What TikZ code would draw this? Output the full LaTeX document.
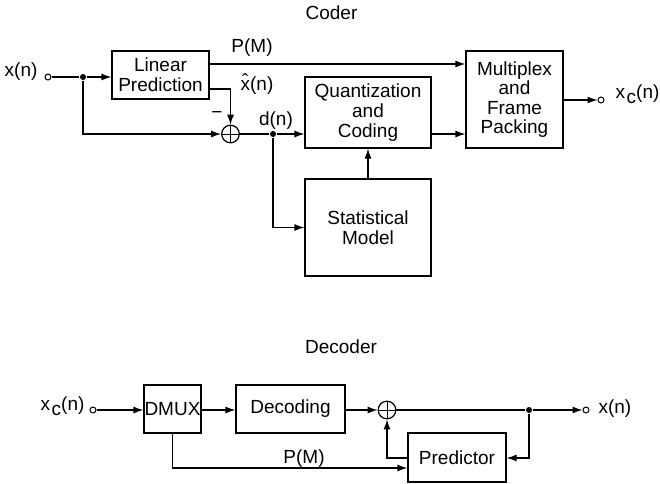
\documentclass[tikz,border=0pt]{standalone}
\usepackage{fontspec}
\setmainfont{Liberation Sans}
\usetikzlibrary{arrows.meta}
\newcommand\myxc{x\kern0.8pt\raisebox{-2.5pt}{c}(n)}
\newcommand\myxhat{\ooalign{x\cr\hidewidth\raisebox{1.2pt}{ˆ}\hidewidth\cr}}
\begin{document}
\begin{tikzpicture}[x=0.5pt,y=-0.5pt,
  font=\fontsize{9.5}{9.8}\selectfont,
  inner sep=0pt,
  line width=0.6pt,
  >={Latex[length=5pt,width=3.5pt]},
  blk/.style={draw, align=center, inner sep=0pt},
  dotnode/.style={circle, fill, inner sep=0pt, minimum size=3pt},
  term/.style={circle, draw, fill=white, inner sep=0pt, minimum size=3pt, line width=0.5pt},
  sumnode/.style={circle, draw, inner sep=0pt, minimum size=8.8pt,
    path picture={\draw[line width=0.5pt] (path picture bounding box.north) -- (path picture bounding box.south)
      (path picture bounding box.west) -- (path picture bounding box.east);}}
]
\useasboundingbox (0,0) rectangle (660,483);

% ---------- Coder ----------
\node[anchor=base] (tcoder) at (331.5,19) {Coder};
\node[term] (in1) at (48,77) {};
\node[dotnode] (j1) at (83,77) {};
\node[blk, minimum width=48.5pt, minimum height=24pt] (lp) at (160.5,75) {Linear\\Prediction};
\node[sumnode] (s1) at (230.5,134) {};
\node[dotnode] (j2) at (273,134) {};
\node[blk, minimum width=63pt, minimum height=35.5pt] (qc) at (368,112.5) {Quantization\\and\\Coding};
\node[blk, minimum width=63pt, minimum height=48.5pt] (sm) at (368,227.5) {Statistical\\Model};
\node[blk, minimum width=48.5pt, minimum height=48.5pt] (mx) at (514.5,99.5) {Multiplex\\and\\Frame\\Packing};
\node[term] (out1) at (601,100) {};
\coordinate (yP) at (0,64);
\coordinate (yX) at (0,89);

\node[anchor=base east] (lx) at (38,76) {x(n)};
\node[anchor=base] (lpm) at (252,52) {P(M)};
\node[anchor=base] (lxh) at (257,90) {\myxhat(n)};
\node (lminus) at (217,115) {−};
\node[anchor=base] (ld) at (276,125) {d(n)};
\node[anchor=base west] (lxc) at (615,98) {\myxc};

\draw (in1) -- (j1);
\draw[->] (j1) -- (j1 -| lp.west);
\draw[->] (j1) |- (s1);
\draw[->] (lp.east |- yP) -- (mx.west |- yP);
\draw[->] (lp.east |- yX) -| (s1);
\draw (s1) -- (j2);
\draw[->] (j2) -- (qc.west |- j2);
\draw[->] (j2) |- (sm);
\draw[->] (sm.north) -- (qc.south);
\draw[->] (qc.east |- j2) -- (mx.west |- j2);
\draw[->] (mx.east |- out1) -- (out1);

% ---------- Decoder ----------
\node[anchor=base] (tdecoder) at (341,353) {Decoder};
\node[term] (in2) at (93,410) {};
\node[blk, minimum width=28.5pt, minimum height=24pt] (dm) at (172.5,409) {DMUX};
\node[blk, minimum width=54.5pt, minimum height=24pt] (dc) at (290.5,409) {Decoding};
\node[sumnode] (s2) at (387,410) {};
\node[dotnode] (j3) at (529,410) {};
\node[term] (out2) at (586,410) {};
\node[blk, minimum width=49pt, minimum height=24.5pt] (pr) at (457,457.5) {Predictor};
\coordinate (yF) at (0,458);
\coordinate (yM) at (0,468);

\node[anchor=base east] (lxc2) at (85,410) {\myxc};
\node[anchor=base] (lpm2) at (304,463) {P(M)};
\node[anchor=base west] (lx2) at (598,413) {x(n)};

\draw[->] (in2) -- (dm.west |- in2);
\draw[->] (dm.east |- in2) -- (dc.west |- in2);
\draw[->] (dc.east |- s2) -- (s2);
\draw (s2) -- (j3);
\draw[->] (j3) -- (out2);
\draw[->] (j3) |- (pr.east |- yF);
\draw[->] (pr.west |- yF) -| (s2);
\draw[->] (dm.south) |- (pr.west |- yM);
\end{tikzpicture}
\end{document}
